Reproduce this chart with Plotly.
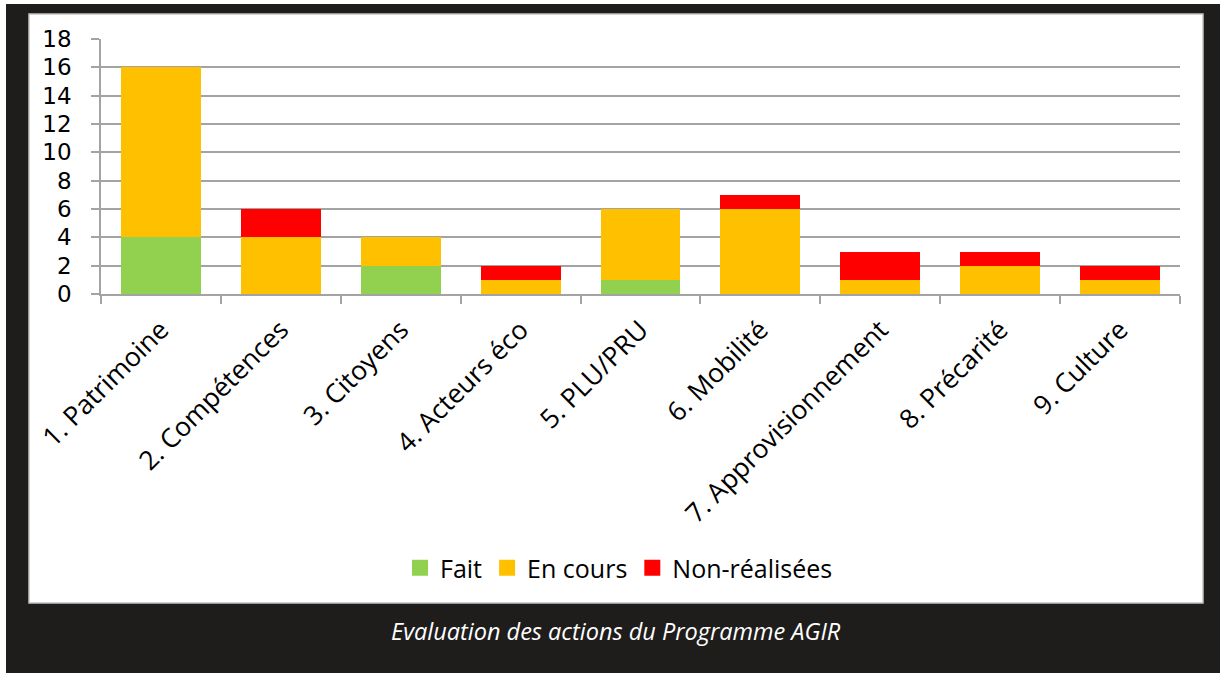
import plotly.graph_objects as go

# Action categories of the programme
categories = [
    "1. Patrimoine", "2. Compétences", "3. Citoyens", "4. Acteurs éco",
    "5. PLU/PRU", "6. Mobilité", "7. Approvisionnement", "8. Précarité",
    "9. Culture",
]
fait = [4, 0, 2, 0, 1, 0, 0, 0, 0]
en_cours = [12, 4, 2, 1, 5, 6, 1, 2, 1]
non_realisees = [0, 2, 0, 1, 0, 1, 2, 1, 1]

series = [
    ("Fait", fait, "#92D050"),
    ("En cours", en_cours, "#FFC000"),
    ("Non-réalisées", non_realisees, "#FF0000"),
]

W, H = 1220, 673
L, R, T, B = 101, 40, 39, 379
PW, PH = W - L - R, H - T - B


def xp(px):
    return (px - L) / PW


def yp(py):
    return (H - B - py) / PH


FONT = "Open Sans"
GRID = "#a3a3a3"

fig = go.Figure()
for name, vals, color in series:
    fig.add_trace(go.Bar(
        x=categories, y=vals, name=name, marker_color=color,
        marker_line_width=0, showlegend=False,
    ))
    # legend proxy with a larger square swatch
    fig.add_trace(go.Scatter(
        x=[None], y=[None], mode="markers", name=name,
        marker=dict(symbol="square", size=16, color=color),
    ))

fig.update_layout(
    width=W, height=H,
    margin=dict(l=L, r=R, t=T, b=B),
    barmode="stack", bargap=1 / 3,
    paper_bgcolor="white", plot_bgcolor="rgba(0,0,0,0)",
    font=dict(family=FONT, size=22, color="black"),
    showlegend=True,
    legend=dict(
        orientation="h", traceorder="normal",
        x=xp(619), y=yp(568), xanchor="center", yanchor="middle",
        font=dict(family=FONT, size=25, color="black"),
        bgcolor="rgba(0,0,0,0)", itemwidth=30,
    ),
    xaxis=dict(
        type="category", showgrid=False, showline=True, linecolor=GRID, linewidth=1.5,
        ticks="outside", tickson="boundaries", ticklen=8, tickcolor=GRID, tickwidth=1.5,
        tickangle=-45, tickfont=dict(family=FONT, size=26.5, color="black"),
        ticklabelstandoff=8, fixedrange=True,
    ),
    yaxis=dict(
        range=[0, 18], dtick=2, showgrid=True, gridcolor=GRID, gridwidth=1.5,
        zeroline=False, showline=True, linecolor=GRID, linewidth=1.5,
        ticks="outside", ticklen=8, tickcolor=GRID, tickwidth=1.5,
        tickfont=dict(family="DejaVu Sans", size=23, color="black"),
        ticklabelstandoff=15,
    ),
    shapes=[
        dict(type="rect", xref="paper", yref="paper", layer="below",
             x0=xp(6), x1=xp(1225), y0=yp(680), y1=yp(4),
             fillcolor="#1e1d1b", line=dict(width=0)),
        dict(type="rect", xref="paper", yref="paper", layer="below",
             x0=xp(29), x1=xp(1203), y0=yp(603), y1=yp(14),
             fillcolor="white", line=dict(color="#c4c4c4", width=1.5)),
    ],
    annotations=[
        dict(text="<i>Evaluation des actions du Programme AGIR</i>",
             xref="paper", yref="paper", x=xp(616), y=yp(631),
             xanchor="center", yanchor="middle", showarrow=False,
             font=dict(family=FONT, size=23.5, color="white")),
    ],
)

fig.write_html("out.html")
